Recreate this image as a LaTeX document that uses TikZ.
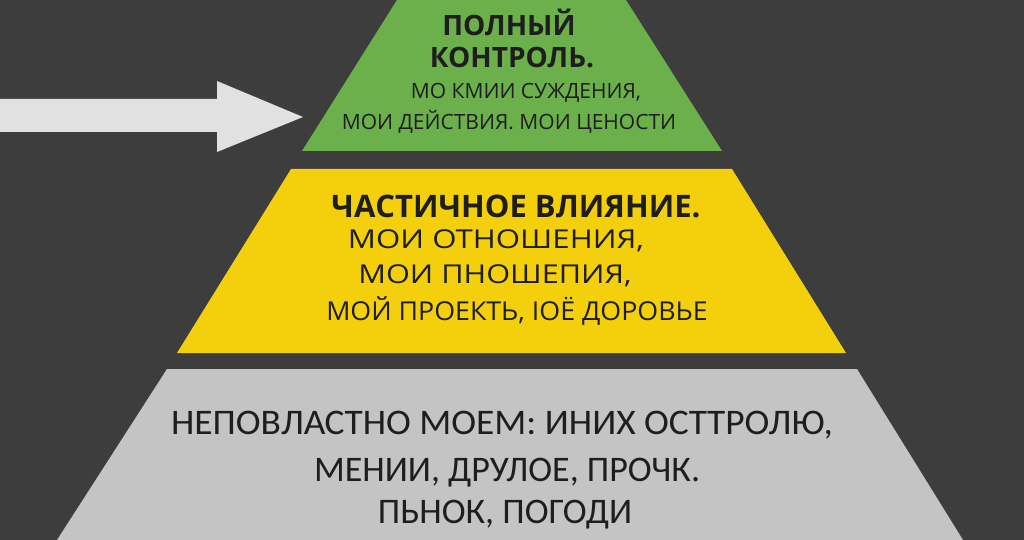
\documentclass[tikz,border=0pt]{standalone}
\usepackage{fontspec}
\setmainfont{Open Sans}
\newfontfamily\calfont{Carlito}
\usetikzlibrary{positioning}
\definecolor{bgdark}{HTML}{3D3D3D}
\definecolor{topgreen}{HTML}{6CB04C}
\definecolor{midyellow}{HTML}{F4D00C}
\definecolor{lowgray}{HTML}{C4C4C4}
\definecolor{arrowgray}{HTML}{E1E1E1}
\definecolor{inkdark}{HTML}{1E1E1E}

\begin{document}
\begin{tikzpicture}[x=1pt,y=-1pt,
    lbl/.style={text=inkdark,inner sep=0pt,anchor=center},
    greenbig/.style={lbl,font=\fontsize{28}{28}\selectfont\bfseries},
    greensmall/.style={lbl,font=\fontsize{21}{21}\selectfont},
    yellowbig/.style={lbl,font=\fontsize{31}{31}\selectfont\bfseries},
    yellowsmall/.style={lbl,font=\fontsize{26}{26}\selectfont},
    graytext/.style={lbl,font=\fontsize{36}{36}\calfont}]
    \fill[bgdark] (0,0) rectangle (1024,540);
    % arrow
    \fill[arrowgray] (0,99) -- (217,99) -- (217,81) -- (303,117) -- (217,152) -- (217,132) -- (0,132) -- cycle;
    % levels
    \fill[topgreen] (397,0) -- (626,0) -- (722,151) -- (302,151) -- cycle;
    \fill[midyellow] (291,169) -- (732,169) -- (846,353) -- (177,353) -- cycle;
    \fill[lowgray] (167,369) -- (857,369) -- (963,540) -- (57,540) -- cycle;
    % top level
    \node[greenbig] (full) at (509,22) {ПОЛНЫЙ};
    \node[greenbig] (control) at (512,58) {КОНТРОЛЬ.};
    \node[greensmall] (judge) at (526,93) {МО КМИИ СУЖДЕНИЯ,};
    \node[greensmall] (acts) at (509,122) {МОИ ДЕЙСТВИЯ. МОИ ЦЕНОСТИ};
    % middle level
    \node[yellowbig] (partial) at (516,206) {ЧАСТИЧНОЕ ВЛИЯНИЕ.};
    \node[yellowsmall,xscale=1.2] (rel) at (496,241) {МОИ ОТНОШЕНИЯ,};
    \node[yellowsmall,xscale=1.18] (rel2) at (495,276) {МОИ ПНОШЕПИЯ,};
    \node[yellowsmall,xscale=1.03] (proj) at (517,311) {МОЙ ПРОЕКТЬ, ІОЁ ДОРОВЬЕ};
    % bottom level
    \node[graytext,xscale=1.04] (beyond) at (502,425) {НЕПОВЛАСТНО МОЕМ: ИНИХ ОСТТРОЛЮ,};
    \node[graytext] (others) at (507,473) {МЕНИИ, ДРУЛОЕ, ПРОЧК.};
    \node[graytext] (market) at (505,515) {ПЬНОК, ПОГОДИ};
\end{tikzpicture}
\end{document}
